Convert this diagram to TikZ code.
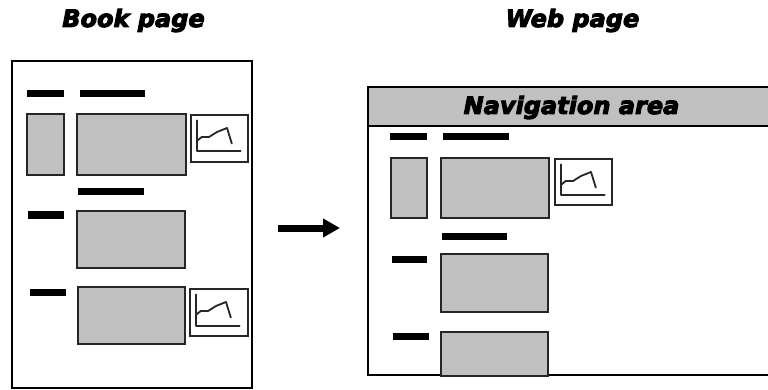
\documentclass[tikz,border=0pt]{standalone}
\usepackage{fontspec}
\newfontfamily\titlefont{DejaVu Sans Bold Oblique}[FakeBold=4]
\usetikzlibrary{arrows.meta}
\definecolor{boxgrey}{HTML}{C0C0C0}
\tikzset{
  pagebox/.style={draw=black, line width=2.4pt, fill=white, inner sep=0pt},
  greybox/.style={draw=black!85, line width=2pt, fill=boxgrey, inner sep=0pt},
  chartbox/.style={draw=black!85, line width=2pt, fill=white, inner sep=0pt, minimum width=57pt, minimum height=47pt},
  bar/.style={fill=black, inner sep=0pt, minimum height=7pt},
  titletext/.style={font=\titlefont\fontsize{24pt}{25pt}\selectfont, inner sep=0pt, anchor=base},
  chartglyph/.pic={
    \draw[line width=2pt, black!85, line join=round, line cap=round]
      (6.5,6.5) -- (6.5,37.5) -- (50.5,37.5);
    \draw[line width=1.8pt, black!85, line join=round, line cap=round]
      (6.8,27) -- (11.8,23) -- (19,23) -- (27,18) -- (37,14) -- (41.8,29.5);
  }
}
\begin{document}
\begin{tikzpicture}[x=1pt, y=-1pt]
\useasboundingbox (0,0) rectangle (768,390);

% titles
\node[titletext] (booktitle) at (133.5,27) {Book page};
\node[titletext] (webtitle) at (572.5,27) {Web page};

% ---------- Book page ----------
\node[pagebox, minimum width=240pt, minimum height=327pt] (book) at (132,224.5) {};
\node[bar, minimum width=37pt] (bb1) at (45.5,94) {};
\node[bar, minimum width=65pt] (bb2) at (112.5,94) {};
\node[greybox, minimum width=37pt, minimum height=61pt] (btall) at (45.5,144.5) {};
\node[greybox, minimum width=109pt, minimum height=61pt] (bbig1) at (131.5,144.5) {};
\node[chartbox] (bchart1) at (219.5,138.5) {};
\pic at (bchart1.north west) {chartglyph};
\node[bar, minimum width=66pt] (bb3) at (111,192) {};
\node[bar, minimum width=36pt] (bb4) at (46,215) {};
\node[greybox, minimum width=108pt, minimum height=57pt] (bbig2) at (131,239.5) {};
\node[bar, minimum width=36pt] (bb5) at (48,292) {};
\node[greybox, minimum width=107pt, minimum height=57pt] (bbig3) at (131.5,315.5) {};
\node[chartbox, minimum width=58pt] (bchart2) at (219,312.5) {};
\pic at (bchart2.north west) {chartglyph};

% ---------- arrow ----------
\coordinate (arrowstart) at (278,228);
\coordinate (arrowend) at (340,228);
\draw[line width=7pt, -{Triangle[length=17pt, width=18pt]}] (arrowstart) -- (arrowend);

% ---------- Web page ----------
\node[pagebox, minimum width=407pt, minimum height=288pt] (web) at (571.5,231) {};
\node[draw=black, line width=2.4pt, fill=boxgrey, inner sep=0pt, minimum width=407pt, minimum height=39pt] (nav) at (571.5,106.5) {};
\node[titletext] (navtext) at (571.5,114) {Navigation area};
\node[bar, minimum width=37pt] (wb1) at (408.5,137) {};
\node[bar, minimum width=66pt] (wb2) at (476,137) {};
\node[greybox, minimum width=36pt, minimum height=60pt] (wtall) at (409,188) {};
\node[greybox, minimum width=108pt, minimum height=60pt] (wbig1) at (495,188) {};
\node[chartbox, minimum height=46pt] (wchart) at (583.5,182) {};
\pic at (wchart.north west) {chartglyph};
\node[bar, minimum width=65pt] (wb3) at (474.5,236) {};
\node[bar, minimum width=35pt] (wb4) at (409.5,259) {};
\node[greybox, minimum width=107pt, minimum height=58pt] (wbig2) at (494.5,283) {};
\node[bar, minimum width=36pt] (wb5) at (411,336) {};
\node[greybox, minimum width=107pt, minimum height=44pt] (wbig3) at (494.5,354) {};
\end{tikzpicture}
\end{document}
